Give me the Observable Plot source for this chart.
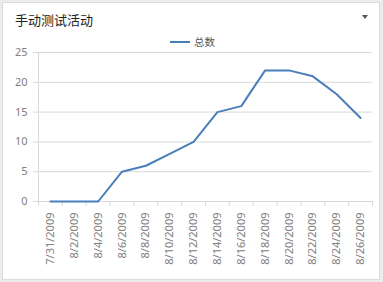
<!DOCTYPE html>
<html><head><meta charset="utf-8">
<script src="https://cdn.jsdelivr.net/npm/d3@7"></script>
<script src="https://cdn.jsdelivr.net/npm/@observablehq/plot@0.6"></script>
<style>
html,body{margin:0;padding:0;background:#fff;}
#wrap{position:relative;width:383px;height:282px;background:#ececec;overflow:hidden;font-family:"Noto Sans","Noto Sans CJK SC",sans-serif;}
#panel{position:absolute;left:2px;top:2px;width:376px;height:276px;background:#fff;border:1px solid #dcdcdc;}
#chart{position:absolute;left:0;top:0;}
#title{position:absolute;left:15px;top:10px;font-size:13px;color:#222;font-family:"Noto Sans CJK SC",sans-serif;}
#drop{position:absolute;left:362px;top:15px;width:0;height:0;border-left:3px solid transparent;border-right:3px solid transparent;border-top:4px solid #555;}
#legend{position:absolute;left:170px;top:34px;font-size:10.5px;color:#595959;display:flex;align-items:center;font-family:"Noto Sans CJK SC",sans-serif;}
#legend .sw{width:20px;height:2px;background:#4a7ebb;margin-right:4px;}
</style></head>
<body>
<div id="wrap"><div id="panel"></div><div id="chart"></div>
<div id="title">手动测试活动</div><div id="drop"></div>
<div id="legend"><span class="sw"></span><span>总数</span></div>
</div>
<script>
const dates = ["7/31/2009","8/2/2009","8/4/2009","8/6/2009","8/8/2009","8/10/2009","8/12/2009","8/14/2009","8/16/2009","8/18/2009","8/20/2009","8/22/2009","8/24/2009","8/26/2009"];
const totals = [0,0,0,5,6,8,10,15,16,22,22,21,18,14];
const yTicks = [0,5,10,15,20,25];
const seriesName = "总数";

const n = dates.length;
const idx = d3.range(n);
const bounds = d3.range(n + 1).map(i => i - 0.5);
const grid = "#d9d9d9";
const txt = "#808080";

const chart = Plot.plot({
  width: 383, height: 282,
  marginLeft: 38, marginRight: 11, marginTop: 52, marginBottom: 81,
  style: {fontFamily: "'Noto Sans','Noto Sans CJK SC',sans-serif", fontSize: "11px", background: "transparent"},
  x: {type: "linear", domain: [-0.5, n - 0.5]},
  y: {domain: [0, 25]},
  marks: [
    Plot.gridY(yTicks, {stroke: grid, strokeOpacity: 1}),
    Plot.ruleX([-0.5], {stroke: grid}),
    Plot.axisY(yTicks, {tickSize: 5, tickPadding: 6, stroke: grid, strokeOpacity: 1, fill: txt, label: null}),
    Plot.axisX(bounds, {tickSize: 5, stroke: grid, strokeOpacity: 1, tickFormat: () => "", label: null}),
    Plot.axisX(idx, {tickSize: 0, tickPadding: 11, tickRotate: -90, tickFormat: i => dates[i], fill: txt, label: null}),
    Plot.line(totals, {x: (d, i) => i, y: d => d, stroke: "#4a7ebb", strokeWidth: 2})
  ]
});
document.getElementById("chart").appendChild(chart);
</script>
</body></html>
